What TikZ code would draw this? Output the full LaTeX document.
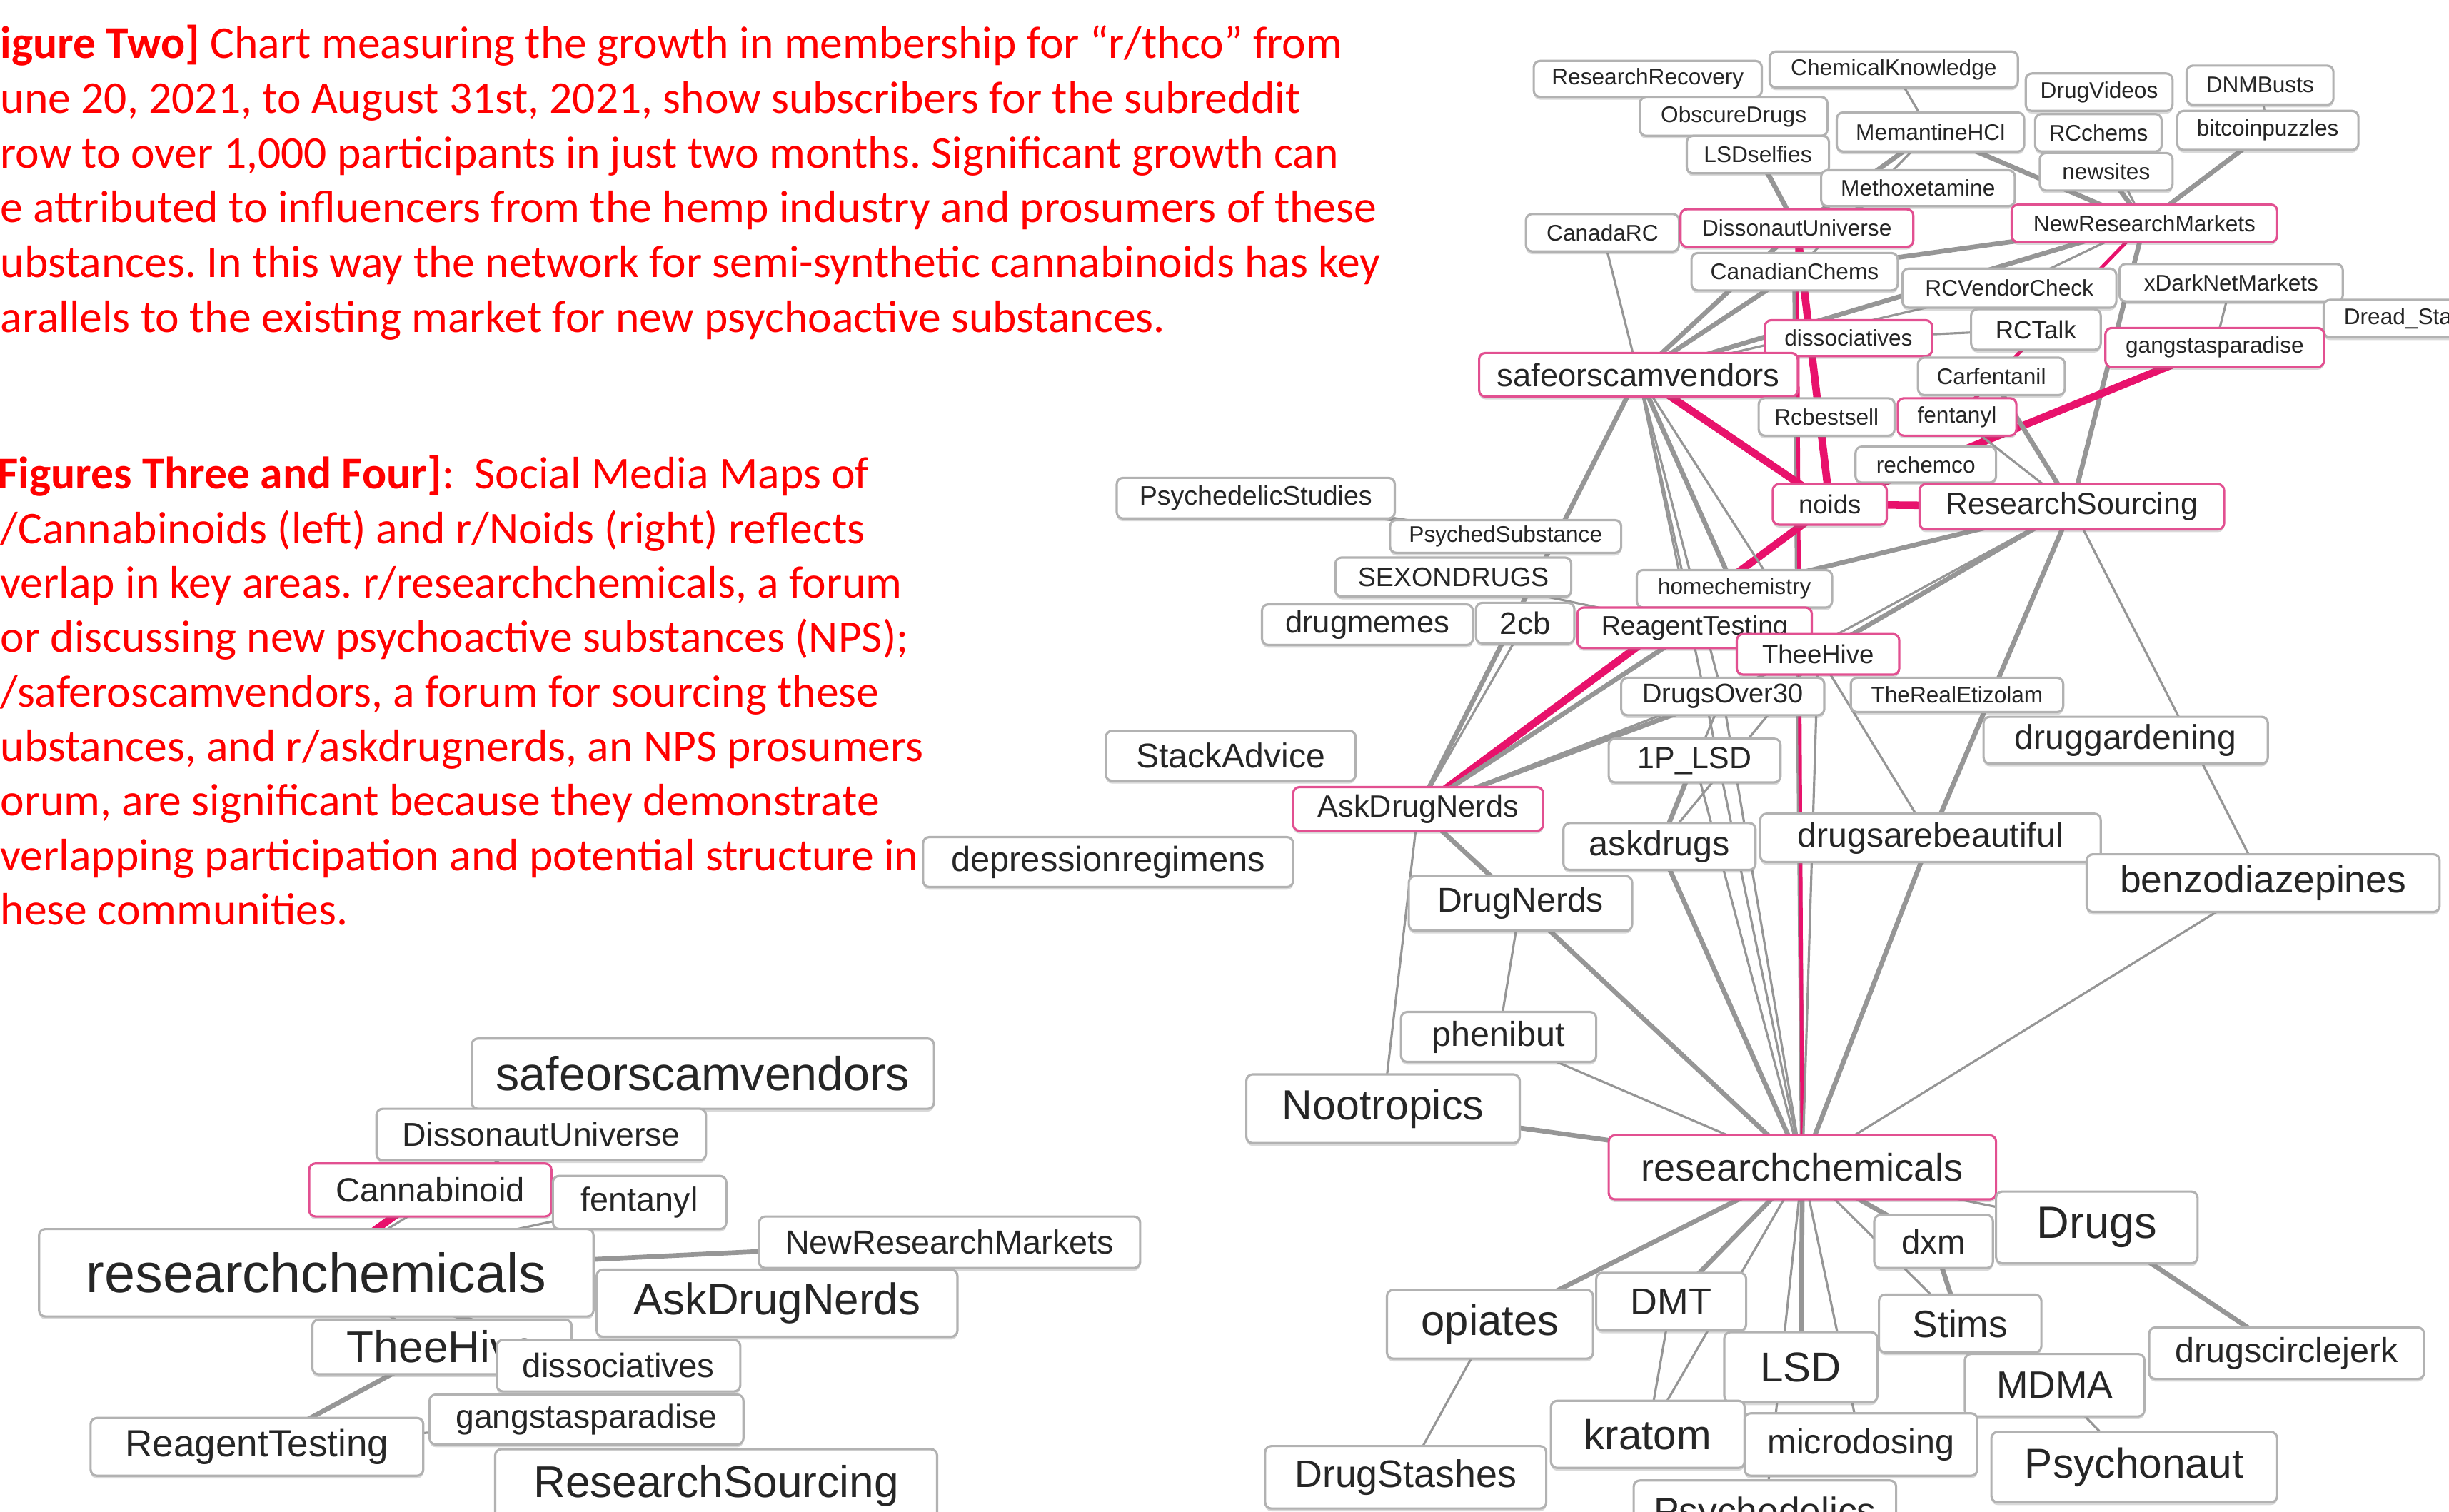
\documentclass[tikz,border=0pt]{standalone}
\usepackage{fontspec}
\usepackage{xcolor}
\usepackage{tikz}
\usetikzlibrary{
    positioning,
    shadows,
    backgrounds
}
\newfontfamily\capfont{Carlito}
\newfontfamily\graphfont{Liberation Sans}
\definecolor{capRed}{RGB}{255, 0, 0}
\definecolor{edgeGray}{RGB}{150, 150, 150}
\definecolor{boxGray}{RGB}{178, 178, 178}
\definecolor{hotPink}{RGB}{232, 18, 108}
\definecolor{boxPink}{RGB}{226, 80, 145}
\newdimen\pxu
\pxu=0.021875cm
\frenchspacing
\tikzset{
    subbox/.style={draw=boxGray, line width=0.9pt, rounded corners=2.5pt, fill=white,
        inner sep=0pt, text=black!85, font=\graphfont\fontsize{9}{9}\selectfont,
        drop shadow={shadow xshift=0pt, shadow yshift=-1.1pt, opacity=0.3}},
    hubbox/.style={subbox, draw=boxPink},
    sz/.style 2 args={minimum width=#1*\pxu, minimum height=#2*\pxu},
    fs/.style={font=\graphfont\fontsize{#1}{#1}\selectfont},
    link/.style={draw=edgeGray, line width=0.9pt},
    tlink/.style={draw=edgeGray, line width=1.9pt},
    plink/.style={draw=hotPink, line width=3pt},
    plinkthin/.style={draw=hotPink, line width=1.4pt},
    capline/.style={anchor=base west, inner sep=0pt, text=capRed, font=\capfont\fontsize{18.1}{21}\selectfont}
}
\begin{document}
\begin{tikzpicture}[x=0.021875cm, y=-0.021875cm]
    \useasboundingbox (0,0) rectangle (1568,967.8);
    \clip (0,0) rectangle (1568,967.8);

    % caption, figure two
    \node[capline] (two1) at (0,37.3) {\textbf{igure Two]} Chart measuring the growth in membership for “r/thco” from};
    \node[capline] (two2) at (0,72.4) {une 20, 2021, to August 31st, 2021, show subscribers for the subreddit};
    \node[capline] (two3) at (0,107.5) {row to over 1,000 participants in just two months. Significant growth can};
    \node[capline] (two4) at (0,142.6) {e attributed to influencers from the hemp industry and prosumers of these};
    \node[capline] (two5) at (0,177.7) {ubstances. In this way the network for semi-synthetic cannabinoids has key};
    \node[capline] (two6) at (0,212.8) {arallels to the existing market for new psychoactive substances.};

    % caption, figures three and four
    \node[capline] (four1) at (-2,313) {\textbf{Figures Three and Four]}:~ Social Media Maps of};
    \node[capline] (four2) at (0,347.9) {/Cannabinoids (left) and r/Noids (right) reflects};
    \node[capline] (four3) at (0,382.8) {verlap in key areas. r/researchchemicals, a forum};
    \node[capline] (four4) at (0,417.7) {or discussing new psychoactive substances (NPS);};
    \node[capline] (four5) at (0,452.6) {/saferoscamvendors, a forum for sourcing these};
    \node[capline] (four6) at (0,487.5) {ubstances, and r/askdrugnerds, an NPS prosumers};
    \node[capline] (four7) at (0,522.4) {orum, are significant because they demonstrate};
    \node[capline] (four8) at (0,557.3) {verlapping participation and potential structure in};
    \node[capline] (four9) at (0,592.2) {hese communities.};

    % r/Noids map, top cluster
    \node[subbox, sz={146}{23}] (rr) at (1055,50.5) {ResearchRecovery};
    \node[subbox, sz={159}{23}] (ck) at (1212.5,44.5) {ChemicalKnowledge};
    \node[subbox, sz={94}{24}] (dv) at (1344,59) {DrugVideos};
    \node[subbox, sz={94}{25}] (dnm) at (1447,54.5) {DNMBusts};
    \node[subbox, sz={120}{25}] (od) at (1110,74.5) {ObscureDrugs};
    \node[subbox, sz={120}{25}] (mem) at (1236,84.5) {MemantineHCl};
    \node[subbox, sz={81}{24}] (rcc) at (1343.5,85) {RCchems};
    \node[subbox, sz={116}{25}] (btc) at (1452,83.5) {bitcoinpuzzles};
    \node[subbox, sz={91}{24}] (lsds) at (1125.5,99) {LSDselfies};
    \node[subbox, sz={85}{24}] (ns) at (1348.5,110) {newsites};
    \node[subbox, sz={124}{23}] (mxe) at (1228,120.5) {Methoxetamine};
    \node[subbox, sz={98}{24}] (crc) at (1026,149) {CanadaRC};
    \node[hubbox, sz={149}{24}] (du) at (1150.5,146) {DissonautUniverse};
    \node[hubbox, sz={170}{24}] (nrm) at (1373,143) {NewResearchMarkets};
    \node[subbox, sz={132}{24}] (cc) at (1149,174) {CanadianChems};
    \node[subbox, sz={137}{25}] (rcv) at (1286.5,184.5) {RCVendorCheck};
    \node[subbox, sz={143}{24}] (xdn) at (1428.5,181) {xDarkNetMarkets};
    \node[subbox, anchor=west, minimum height=24*\pxu, text width=95*\pxu, inner xsep=13*\pxu, align=left] (dread) at (1487,204) {Dread\_Sta};
    \node[hubbox, sz={107}{23}] (dis) at (1183.5,216.5) {dissociatives};
    \node[subbox, sz={83}{26}, fs=10] (rct) at (1303.5,211) {RCTalk};
    \node[hubbox, sz={140}{25}] (gp) at (1418,222.5) {gangstasparadise};
    \node[hubbox, sz={204}{28}, fs=12.9] (sosv) at (1049,240) {safeorscamvendors};
    \node[subbox, sz={94}{24}] (carf) at (1275,241) {Carfentanil};
    \node[subbox, sz={87}{24}] (rcb) at (1169.5,267) {Rcbestsell};
    \node[hubbox, sz={76}{24}] (fent) at (1253,267) {fentanyl};
    \node[subbox, sz={90}{23}] (rech) at (1233,297.5) {rechemco};
    \node[hubbox, sz={73}{26}, fs=10.4] (noids) at (1171.5,323) {noids};
    \node[hubbox, sz={195}{29}, fs=12.2] (rs) at (1326.5,324.5) {ResearchSourcing};

    % r/Noids map, middle
    \node[subbox, sz={178}{26}, fs=10.7] (pstud) at (804,319) {PsychedelicStudies};
    \node[subbox, sz={148}{21}] (psub) at (964,343.5) {PsychedSubstance};
    \node[subbox, sz={151}{25}, fs=10.7] (sex) at (930.5,369.5) {SEXONDRUGS};
    \node[subbox, sz={125}{24}] (hc) at (1110.5,377) {homechemistry};
    \node[subbox, sz={135}{26}, fs=12.4] (memes) at (875.5,400) {drugmemes};
    \node[subbox, sz={63}{26}, fs=12.4] (tcb) at (976.5,399) {2cb};
    \node[hubbox, sz={150}{26}, fs=10.7] (rt) at (1085,402) {ReagentTesting};
    \node[hubbox, sz={104}{26}, fs=10.4] (hive) at (1164,419) {TheeHive};
    \node[subbox, sz={130}{24}, fs=10.8] (do30) at (1103,446) {DrugsOver30};
    \node[subbox, sz={136}{22}] (etiz) at (1253,445) {TheRealEtizolam};
    \node[subbox, sz={160}{32}, fs=13.7] (stack) at (788,484) {StackAdvice};
    \node[subbox, sz={110}{28}, fs=12.2] (plsd) at (1085,487) {1P\_LSD};
    \node[subbox, sz={182}{30}, fs=13.7] (garden) at (1361,474) {druggardening};
    \node[hubbox, sz={160}{28}, fs=12.3] (adn) at (908,518) {AskDrugNerds};
    \node[subbox, sz={123}{30}, fs=13.8] (ask) at (1062.5,542) {askdrugs};
    \node[subbox, sz={218}{31}, fs=13.7] (dab) at (1236,536.5) {drugsarebeautiful};
    \node[subbox, sz={237}{32}, fs=13.9] (depr) at (709.5,552) {depressionregimens};
    \node[subbox, sz={226}{37}, fs=15.2] (benzo) at (1449,565.5) {benzodiazepines};
    \node[subbox, sz={143}{35}, fs=13.7] (dn) at (973.5,578.5) {DrugNerds};
    \node[subbox, sz={125}{32}, fs=13.8] (phen) at (959.5,664) {phenibut};
    \node[subbox, sz={175}{44}, fs=16.8] (noot) at (885.5,710) {Nootropics};
    \node[hubbox, sz={248}{41}, fs=15.4] (rc) at (1154,747.5) {researchchemicals};

    % r/Noids map, bottom
    \node[subbox, sz={76}{34}, fs=13.5] (dxm) at (1238,795) {dxm};
    \node[subbox, sz={129}{46}, fs=18] (drugs) at (1342.5,786) {Drugs};
    \node[subbox, sz={132}{44}, fs=17] (opi) at (954,848) {opiates};
    \node[subbox, sz={96}{37}, fs=14.9] (dmt) at (1070,833.5) {DMT};
    \node[subbox, sz={104}{37}, fs=15.2] (stims) at (1255,847.5) {Stims};
    \node[subbox, sz={176}{33}, fs=13.8] (dcj) at (1464,866.5) {drugscirclejerk};
    \node[subbox, sz={98}{45}, fs=16.6] (lsd) at (1153,875.5) {LSD};
    \node[subbox, sz={115}{40}, fs=15.2] (mdma) at (1315.5,887) {MDMA};
    \node[subbox, sz={124}{43}, fs=16.6] (kratom) at (1055,918.5) {kratom};
    \node[subbox, sz={149}{40}, fs=13.8] (micro) at (1191.5,925) {microdosing};
    \node[subbox, sz={183}{45}, fs=16.7] (psyn) at (1366.5,939.5) {Psychonaut};
    \node[subbox, sz={180}{40}, fs=15.3] (stash) at (900,946) {DrugStashes};
    \node[subbox, sz={168}{44}, fs=15.2] (psyd) at (1130,970) {Psychedelics};

    % r/Cannabinoids map
    \node[subbox, sz={296}{45}, fs=18.9] (lsosv) at (450,687.5) {safeorscamvendors};
    \node[subbox, sz={211}{33}, fs=13.2] (ldu) at (346.5,726.5) {DissonautUniverse};
    \node[hubbox, sz={155}{34}, fs=13.4] (lcan) at (275.5,762) {Cannabinoid};
    \node[subbox, sz={111}{34}, fs=13.3] (lfent) at (409.5,770) {fentanyl};
    \node[subbox, sz={244}{33}, fs=13.3] (lnrm) at (608,795.5) {NewResearchMarkets};
    \node[subbox, sz={355}{56}, fs=22] (lrc) at (202.5,815) {researchchemicals};
    \node[subbox, sz={231}{43}, fs=17.6] (ladn) at (497.5,834.5) {AskDrugNerds};
    \node[subbox, sz={166}{35}, fs=17.7] (lhive) at (283,862.5) {TheeHive};
    \node[subbox, sz={156}{33}, fs=13.5] (ldis) at (396,874.5) {dissociatives};
    \node[subbox, sz={201}{32}, fs=13.2] (lgp) at (375.5,909) {gangstasparadise};
    \node[subbox, sz={213}{37}, fs=15.1] (lrt) at (164.5,926.5) {ReagentTesting};
    \node[subbox, sz={283}{47}, fs=17.7] (lrs) at (458.5,951.5) {ResearchSourcing};

    \begin{pgfonlayer}{background}
        % top cluster links
        \draw[link] (ck.center) -- (mem.center);
        \draw[link] (dnm.center) -- (btc.center);
        \draw[tlink] (lsds.center) -- (du.center);
        \draw[link] (od.center) -- (du.center);
        \draw[tlink] (mem.center) -- (du.center);
        \draw[link] (mem.center) -- (cc.center);
        \draw[link] (mxe.center) -- (du.center);
        \draw[tlink] (mem.center) -- (nrm.center);
        \draw[link] (rcc.center) -- (nrm.center);
        \draw[tlink] (ns.center) -- (nrm.center);
        \draw[tlink] (btc.center) -- (nrm.center);
        \draw[link] (crc.center) -- (sosv.center);
        \draw[tlink] (du.center) -- (sosv.center);
        \draw[tlink] (cc.center) -- (sosv.center);
        \draw[tlink] (cc.center) -- (rc.center);
        \draw[tlink] (nrm.center) -- (cc.center);
        \draw[tlink] (nrm.center) -- (sosv.center);
        \draw[tlink] (nrm.center) -- (rs.center);
        \draw[link] (nrm.center) -- (rcv.center);
        \draw[link] (rcv.center) -- (sosv.center);
        \draw[link] (xdn.center) -- (gp.center);
        \draw[link] (rct.center) -- (dis.center);
        % pink links
        \draw[plink] (du.center) -- (noids.center);
        \draw[plinkthin] (du.center) -- (rc.center);
        \draw[plink] (sosv.center) -- (noids.center);
        \draw[plink] (noids.center) -- (rs.center);
        \draw[plink] (noids.center) -- (adn.center);
        \draw[plink] (gp.center) -- (noids.center);
        \draw[plinkthin] (nrm.center) -- (fent.center);
        % safeorscamvendors and ResearchSourcing links
        \draw[tlink] (sosv.center) -- (adn.center);
        \draw[link] (sosv.center) -- (rt.center);
        \draw[tlink] (sosv.center) -- (hc.center);
        \draw[link] (sosv.center) -- (hive.center);
        \draw[link] (sosv.center) -- (do30.center);
        \draw[link] (sosv.center) -- (rc.center);
        \draw[tlink] (rs.center) -- (hive.center);
        \draw[tlink] (rs.center) -- (hc.center);
        \draw[link] (rs.center) -- (do30.center);
        \draw[link] (rs.center) -- (benzo.center);
        \draw[tlink] (rs.center) -- (dab.center);
        \draw[tlink] (rs.center) -- (carf.center);
        \draw[link] (rs.center) -- (fent.center);
        % middle links
        \draw[tlink] (pstud.center) -- (psub.center);
        \draw[link] (sex.center) -- (rt.center);
        \draw[link] (tcb.center) -- (adn.center);
        \draw[tlink] (rt.center) -- (adn.center);
        \draw[tlink] (do30.center) -- (adn.center);
        \draw[link] (hive.center) -- (adn.center);
        \draw[tlink] (plsd.center) -- (ask.center);
        \draw[link] (do30.center) -- (ask.center);
        \draw[link] (hive.center) -- (ask.center);
        \draw[link] (plsd.center) -- (rc.center);
        \draw[link] (hive.center) -- (dab.center);
        \draw[link] (hive.center) -- (rc.center);
        \draw[link] (do30.center) -- (rc.center);
        \draw[link] (benzo.center) -- (rc.center);
        \draw[tlink] (dab.center) -- (rc.center);
        \draw[tlink] (ask.center) -- (rc.center);
        \draw[tlink] (dn.center) -- (rc.center);
        \draw[tlink] (adn.center) -- (dn.center);
        \draw[link] (adn.center) -- (noot.center);
        \draw[link] (adn.center) -- (rc.center);
        \draw[link] (dn.center) -- (phen.center);
        \draw[link] (phen.center) -- (rc.center);
        \draw[tlink] (noot.center) -- (rc.center);
        % bottom links
        \draw[tlink] (rc.center) -- (dxm.center);
        \draw[link] (rc.center) -- (drugs.center);
        \draw[tlink] (rc.center) -- (opi.center);
        \draw[tlink] (rc.center) -- (dmt.center);
        \draw[tlink] (rc.center) -- (lsd.center);
        \draw[link] (rc.center) -- (kratom.center);
        \draw[link] (rc.center) -- (micro.center);
        \draw[link] (rc.center) -- (stims.center);
        \draw[link] (rc.center) -- (psyd.center);
        \draw[tlink] (dxm.center) -- (stims.center);
        \draw[tlink] (drugs.center) -- (dcj.center);
        \draw[link] (opi.center) -- (stash.center);
        \draw[link] (dmt.center) -- (kratom.center);
        \draw[link] (mdma.center) -- (psyn.center);
        % r/Cannabinoids links
        \draw[plink] (lrc.center) -- (lcan.center);
        \draw[link] (lrc.center) -- (ldu.center);
        \draw[link] (lrc.center) -- (lfent.center);
        \draw[tlink] (lrc.center) -- (lnrm.center);
        \draw[link] (lrc.center) -- (ladn.center);
        \draw[tlink] (lrc.center) -- (ldis.center);
        \draw[link] (lrc.center) -- (lhive.center);
        \draw[tlink] (lhive.center) -- (lrt.center);
        \draw[link] (lrt.center) -- (lgp.center);
    \end{pgfonlayer}
\end{tikzpicture}
\end{document}
